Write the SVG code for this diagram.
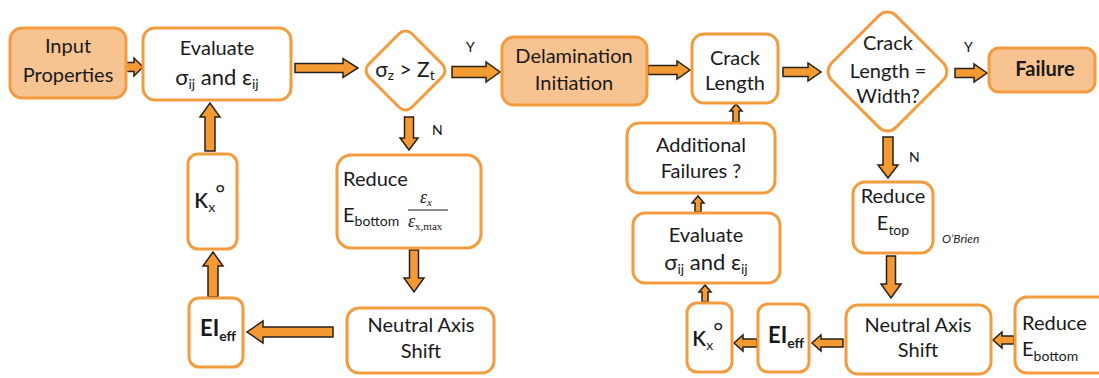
<svg xmlns="http://www.w3.org/2000/svg" width="1099" height="378" viewBox="0 0 1099 378">
<style>
.box{fill:#fff;stroke:#F39C3F;stroke-width:3}
.fill{fill:#F7C391;stroke:#F39C3F;stroke-width:3}
.arr{fill:#F39A33;stroke:#2a2118;stroke-width:1.5;stroke-linejoin:miter}
.t{font-family:Lato,"Open Sans","DejaVu Sans",sans-serif;font-size:20px;font-weight:400;fill:#1a1a1a;text-anchor:middle}
.l{text-anchor:start}
.b{font-weight:bold}
.s{font-size:14px}
.yn{font-family:Lato,"Open Sans",sans-serif;font-size:14px;font-weight:400;fill:#111}
.m{font-family:"Liberation Serif",serif;font-style:italic;fill:#1a1a1a}
</style>
<rect width="1099" height="378" fill="#fff"/>
<g id="connectors">
<polygon class="arr" points="126,62.5 134,62.5 134,58 143,67 134,76 134,71.5 126,71.5"/>
<polygon class="arr" points="295,63.5 343,63.5 343,58.5 358,68 343,77.5 343,72.5 295,72.5"/>
<polygon class="arr" points="452,66.5 486,66.5 486,62 500,72 486,82 486,77.5 452,77.5"/>
<polygon class="arr" points="648,65.5 677,65.5 677,61 690,70 677,79 677,74.5 648,74.5"/>
<polygon class="arr" points="783,67.5 808,67.5 808,63 821,72 808,81 808,76.5 783,76.5"/>
<polygon class="arr" points="955,68.5 974,68.5 974,64 987,73 974,82 974,77.5 955,77.5"/>
<polygon class="arr" points="404.5,117 413.5,117 413.5,138 418,138 409,150 400,138 404.5,138"/>
<polygon class="arr" points="409.5,250 418.5,250 418.5,278 424,278 414,292 404,278 409.5,278"/>
<polygon class="arr" points="333,327 263,327 263,321 247,332 263,343 263,337 333,337"/>
<polygon class="arr" points="208,297 208,266 203,266 213,252 223,266 218,266 218,297"/>
<polygon class="arr" points="205,151 205,117 200,117 210,103 220,117 215,117 215,151"/>
<polygon class="arr" points="883,137 893,137 893,165 898,165 888,178 878,165 883,165"/>
<polygon class="arr" points="886.5,256 895.5,256 895.5,284 901,284 891,298 881,284 886.5,284"/>
<polygon class="arr" points="1014,336 1002,336 1002,332 993,340 1002,348 1002,344 1014,344"/>
<polygon class="arr" points="843,339 821,339 821,335 812,343 821,351 821,347 843,347"/>
<polygon class="arr" points="757,339 743,339 743,335 734,343 743,351 743,347 757,347"/>
<polygon class="arr" points="702,302 702,292 699,292 705,285 711,292 708,292 708,302"/>
<polygon class="arr" points="695,212 695,203 692,203 698,196 704,203 701,203 701,212"/>
<polygon class="arr" points="733,122 733,111 730,111 736,104 742,111 739,111 739,122"/>
<text class="yn" x="466" y="52">Y</text>
<text class="yn" x="964" y="52">Y</text>
<text class="yn" x="432" y="135">N</text>
<text class="yn" x="909" y="162">N</text>
</g>
<g id="input">
<rect class="fill" x="10" y="28" width="116" height="70" rx="12"/>
<text class="t" x="68" y="53">Input</text>
<text class="t" x="68" y="82">Properties</text>
</g>
<g id="evaluate1">
<rect class="box" x="143" y="28" width="148" height="72" rx="12"/>
<text class="t" x="217" y="55">Evaluate</text>
<text class="t" x="217" y="85" style="font-size:22px">σ<tspan class="s" dy="4">ij</tspan><tspan dy="-4"> and ε</tspan><tspan class="s" dy="4">ij</tspan></text>
</g>
<g id="decision1">
<rect class="box" x="-30.5" y="-30.5" width="61" height="61" rx="9" transform="translate(405.5,70.5) rotate(45)"/>
<text class="t" x="405" y="77" style="font-size:21px">σ<tspan class="s" dy="3">z</tspan><tspan dy="-3"> &gt; Z</tspan><tspan class="s" dy="3">t</tspan></text>
</g>
<g id="delamination">
<rect class="fill" x="502" y="37" width="145" height="68" rx="12"/>
<text class="t" x="574" y="63">Delamination</text>
<text class="t" x="574" y="90">Initiation</text>
</g>
<g id="crack">
<rect class="box" x="692" y="34" width="86" height="69" rx="12"/>
<text class="t" x="735" y="65">Crack</text>
<text class="t" x="735" y="90">Length</text>
</g>
<g id="decision2">
<rect class="box" x="-45.5" y="-45.5" width="91" height="91" rx="12" transform="translate(887.5,71.5) rotate(45)"/>
<text class="t" x="888" y="50">Crack</text>
<text class="t" x="888" y="78">Length =</text>
<text class="t" x="888" y="103">Width?</text>
</g>
<g id="failure">
<rect class="fill" x="989" y="48" width="106" height="44" rx="10"/>
<text class="t b" x="1045" y="76">Failure</text>
</g>
<g id="reduce1">
<rect class="box" x="337" y="155" width="144" height="93" rx="14"/>
<text class="t l" x="343" y="186">Reduce</text>
<text class="t l" x="343" y="222">E<tspan class="s" dy="4">bottom</tspan></text>
<text class="m" x="420" y="203" font-size="18">ε<tspan font-size="11" dy="3">x</tspan></text>
<line x1="408" y1="210" x2="448" y2="210" stroke="#1a1a1a" stroke-width="1"/>
<text class="m" x="408" y="227" font-size="18">ε<tspan font-size="11" dy="3" font-style="normal">x,max</tspan></text>
</g>
<g id="kappa1">
<rect class="box" x="188" y="154" width="49" height="95" rx="10"/>
<text class="t l" x="194" y="208" style="font-size:28px">κ<tspan class="s" dy="4">x</tspan><tspan dy="-10" style="font-size:24px">°</tspan></text>
</g>
<g id="ei1">
<rect class="box" x="189" y="298" width="54" height="69" rx="10"/>
<text class="t l b" x="200" y="336" style="font-size:22px">EI<tspan class="s" dy="5">eff</tspan></text>
</g>
<g id="neutral1">
<rect class="box" x="347" y="308" width="147" height="65" rx="12"/>
<text class="t" x="421" y="332">Neutral Axis</text>
<text class="t" x="421" y="358">Shift</text>
</g>
<g id="additional">
<rect class="box" x="627" y="123" width="148" height="70" rx="12"/>
<text class="t" x="701" y="152">Additional</text>
<text class="t" x="701" y="178">Failures ?</text>
</g>
<g id="evaluate2">
<rect class="box" x="633" y="213" width="147" height="70" rx="12"/>
<text class="t" x="706" y="242">Evaluate</text>
<text class="t" x="706" y="270" style="font-size:22px">σ<tspan class="s" dy="4">ij</tspan><tspan dy="-4"> and ε</tspan><tspan class="s" dy="4">ij</tspan></text>
</g>
<g id="reduce-top">
<rect class="box" x="853" y="182" width="80" height="71" rx="12"/>
<text class="t" x="893" y="203">Reduce</text>
<text class="t" x="893" y="230">E<tspan class="s" dy="5">top</tspan></text>
<text x="942" y="243" font-family="Lato,'Open Sans',sans-serif" font-style="italic" font-weight="400" font-size="12" fill="#222">O’Brien</text>
</g>
<g id="neutral2">
<rect class="box" x="846" y="305" width="145" height="69" rx="12"/>
<text class="t" x="918" y="332">Neutral Axis</text>
<text class="t" x="918" y="357">Shift</text>
</g>
<g id="reduce2">
<rect class="box" x="1015" y="297" width="100" height="76" rx="12"/>
<text class="t l" x="1022" y="330">Reduce</text>
<text class="t l" x="1022" y="356">E<tspan class="s" dy="5">bottom</tspan></text>
</g>
<g id="ei2">
<rect class="box" x="758" y="304" width="51" height="68" rx="10"/>
<text class="t l b" x="768" y="343" style="font-size:22px">EI<tspan class="s" dy="5">eff</tspan></text>
</g>
<g id="kappa2">
<rect class="box" x="687" y="303" width="45" height="69" rx="10"/>
<text class="t l" x="692" y="346" style="font-size:28px">κ<tspan class="s" dy="4">x</tspan><tspan dy="-10" style="font-size:24px">°</tspan></text>
</g>
</svg>
